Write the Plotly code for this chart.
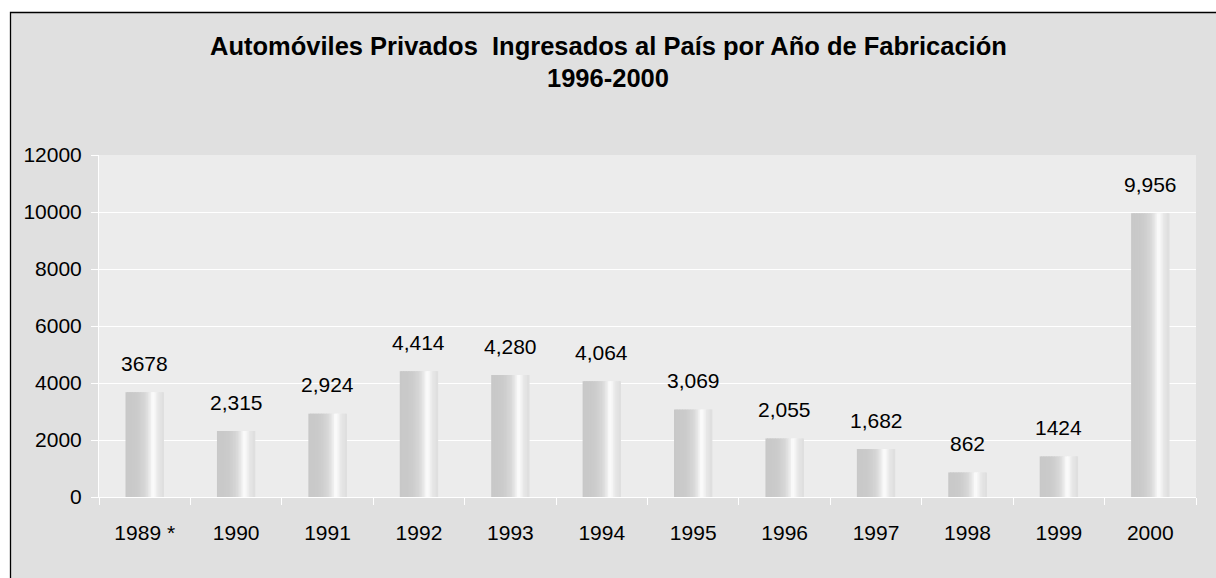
import plotly.graph_objects as go

# datos
years = ["1989 *", "1990", "1991", "1992", "1993", "1994",
         "1995", "1996", "1997", "1998", "1999", "2000"]
autos = [3678, 2315, 2924, 4414, 4280, 4064, 3069, 2055, 1682, 862, 1424, 9956]
labels = ["3678", "2,315", "2,924", "4,414", "4,280", "4,064",
          "3,069", "2,055", "1,682", "862", "1424", "9,956"]
y_ticks = [0, 2000, 4000, 6000, 8000, 10000, 12000]

title_1 = "Automóviles Privados  Ingresados al País por Año de Fabricación"
title_2 = "1996-2000"

FONT = "Liberation Sans, Arial, sans-serif"

# área de trazado en píxeles
L, R, T, B = 99, 1196, 155, 497
PW, PH = R - L, B - T


def px_x(x):
    return (x - L) / PW


def px_y(y):
    return (B - y) / PH


# perfil de gris para simular el cilindro
def shade(t):
    pts = [(0.0, 200), (0.3, 203), (0.5, 214), (0.62, 232), (0.7, 252),
           (0.76, 247), (0.86, 230), (1.0, 222)]
    for (t0, c0), (t1, c1) in zip(pts, pts[1:]):
        if t0 <= t <= t1:
            c = c0 + (c1 - c0) * (t - t0) / (t1 - t0)
            c = int(round(c))
            return f"rgb({c},{c},{c})"
    return "rgb(222,222,222)"


fig = go.Figure()

bar_w = 0.42
n_slices = 24
sw = bar_w / n_slices
for i in range(n_slices):
    t = (i + 0.5) / n_slices
    w = sw * 1.6 if i < n_slices - 1 else sw
    fig.add_trace(
        go.Bar(
            x=years,
            y=autos,
            width=[w] * len(years),
            offset=[-bar_w / 2 + i * sw] * len(years),
            marker=dict(color=shade(t), line=dict(width=0)),
            hoverinfo="skip",
            showlegend=False,
        )
    )

# etiquetas de valor (en eje de categorías se usa el índice)
for idx, (v, lab) in enumerate(zip(autos, labels)):
    fig.add_annotation(
        x=idx, y=v, text=lab, showarrow=False,
        yanchor="middle", yshift=29,
        font=dict(family=FONT, size=21, color="black"),
    )

# título en dos líneas
fig.add_annotation(
    xref="paper", yref="paper", x=px_x(608), y=px_y(46),
    text=f"<b>{title_1}</b>", showarrow=False, yanchor="middle",
    font=dict(family=FONT, size=25.5, color="black"),
)
fig.add_annotation(
    xref="paper", yref="paper", x=px_x(608), y=px_y(78),
    text=f"<b>{title_2}</b>", showarrow=False, yanchor="middle",
    font=dict(family=FONT, size=25.5, color="black"),
)

# fondo exterior con borde y fondo del área de trazado
fig.add_shape(
    type="rect", xref="paper", yref="paper", layer="below",
    x0=px_x(10.5), x1=px_x(1240),
    y0=px_y(600), y1=px_y(12.5),
    fillcolor="#e0e0e0", line=dict(color="black", width=1.3),
)
fig.add_shape(
    type="rect", xref="paper", yref="paper", layer="below",
    x0=0, x1=1, y0=0, y1=1,
    fillcolor="#ececec", line=dict(width=0),
)

fig.update_layout(
    width=1216,
    height=578,
    margin=dict(l=L, r=1216 - R, t=T, b=578 - B),
    paper_bgcolor="white",
    plot_bgcolor="rgba(0,0,0,0)",
    barmode="overlay",
    showlegend=False,
    font=dict(family=FONT, size=21, color="black"),
)
fig.update_xaxes(
    type="category",
    range=[-0.5, len(years) - 0.5],
    showgrid=False,
    showline=True, linecolor="white", linewidth=1,
    ticks="outside", tickson="boundaries", ticklen=7, tickcolor="white",
    ticklabelstandoff=17,
    tickangle=0,
    tickfont=dict(family=FONT, size=21, color="black"),
)
fig.update_yaxes(
    range=[0, 12000],
    tickvals=y_ticks,
    tickformat="d",
    showgrid=True, gridcolor="white", gridwidth=1,
    zeroline=False,
    showline=True, linecolor="white", linewidth=1,
    ticks="outside", ticklen=7, tickcolor="white",
    ticklabelstandoff=5,
    tickfont=dict(family=FONT, size=21, color="black"),
)

# sin margen de página para que la figura ocupe toda la ventana
fig.write_html(
    "out.html",
    config={"displayModeBar": False},
    post_script="document.body.style.margin='0';document.body.style.overflow='hidden';",
)
